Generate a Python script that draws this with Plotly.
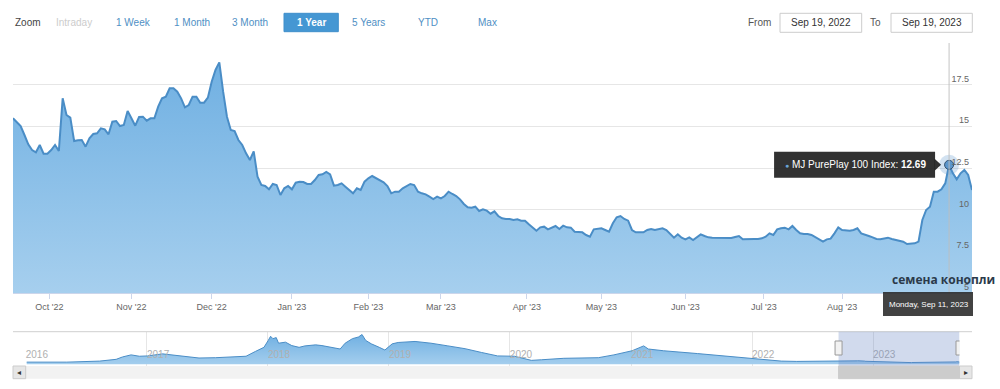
import pandas as pd
import plotly.graph_objects as go

# ---------------- data ----------------
HOLIDAYS = ["2022-11-24", "2022-12-26", "2023-01-02", "2023-01-16", "2023-02-20",
            "2023-04-07", "2023-05-29", "2023-06-19", "2023-07-04", "2023-09-04"]
START, END = "2022-09-19", "2023-09-19"
TRADE_DATES = [d.strftime("%Y-%m-%d") for d in
               pd.bdate_range(START, END, freq="C", holidays=HOLIDAYS)]

MJ_VALUES = [
    15.48, 15.22, 15.02, 14.48, 13.92, 13.58, 13.44, 13.88, 13.36, 13.36,
    13.58, 13.88, 13.52, 16.68, 15.68, 15.52, 14.12, 14.16, 14.18, 13.78,
    14.28, 14.54, 14.58, 14.88, 14.82, 14.52, 15.28, 15.32, 15.02, 15.08,
    15.92, 15.48, 15.04, 15.56, 15.58, 15.34, 15.48, 15.48, 16.18, 16.68,
    16.78, 17.28, 17.28, 17.08, 16.68, 16.14, 16.28, 16.78, 16.78, 16.42,
    16.42, 16.72, 17.68, 18.38, 18.84, 17.08, 15.58, 14.78, 14.72, 14.18,
    13.88, 13.38, 12.98, 13.50, 11.98, 11.48, 11.42, 11.22, 11.54, 11.48,
    10.88, 11.28, 11.42, 11.22, 11.62, 11.68, 11.66, 11.54, 11.54, 11.78,
    12.08, 12.12, 12.26, 12.12, 11.44, 11.48, 11.58, 11.38, 11.18, 10.98,
    11.28, 11.18, 11.68, 11.88, 12.02, 11.88, 11.78, 11.64, 11.42, 10.98,
    11.08, 11.08, 11.28, 11.42, 11.54, 11.48, 11.08, 10.98, 10.92, 10.78,
    10.64, 10.78, 10.68, 10.82, 11.08, 10.94, 10.82, 10.62, 10.34, 10.14,
    10.12, 10.18, 9.92, 10.02, 9.94, 9.76, 9.90, 9.62, 9.48, 9.44,
    9.44, 9.38, 9.42, 9.34, 9.34, 9.12, 8.92, 8.74, 8.94, 8.98,
    8.82, 8.94, 9.02, 8.84, 9.04, 8.94, 8.92, 8.68, 8.64, 8.64,
    8.48, 8.38, 8.82, 8.84, 8.88, 8.78, 8.68, 9.18, 9.54, 9.62,
    9.44, 9.34, 8.78, 8.64, 8.64, 8.64, 8.78, 8.84, 8.78, 8.84,
    8.88, 8.78, 8.54, 8.32, 8.52, 8.32, 8.22, 8.34, 8.18, 8.38,
    8.52, 8.42, 8.34, 8.32, 8.32, 8.34, 8.32, 8.34, 8.30, 8.36,
    8.42, 8.22, 8.24, 8.24, 8.24, 8.24, 8.28, 8.38, 8.58, 8.48,
    8.82, 8.88, 8.92, 8.82, 9.02, 8.78, 8.58, 8.54, 8.54, 8.48,
    8.34, 8.22, 8.08, 8.22, 8.26, 8.58, 8.94, 8.78, 8.74, 8.74,
    8.78, 8.88, 8.58, 8.48, 8.42, 8.34, 8.24, 8.22, 8.28, 8.32,
    8.24, 8.18, 8.14, 8.08, 7.94, 7.94, 7.98, 8.08, 9.38, 9.98,
    10.18, 11.08, 11.08, 11.22, 11.58, 12.69, 12.18, 11.82, 12.18, 12.38,
    12.08, 11.18,
]
N = min(len(TRADE_DATES), len(MJ_VALUES))
TRADE_DATES, MJ_VALUES = TRADE_DATES[:N], MJ_VALUES[:N]

# navigator history (before the selected year)
HIST_DATES = [
    "2016-01-04", "2016-05-04", "2016-08-11", "2016-09-30", "2016-10-19", "2016-11-14",
    "2016-12-09", "2017-01-03", "2017-02-17", "2017-03-17", "2017-04-20", "2017-06-07",
    "2017-07-27", "2017-09-15", "2017-10-27", "2017-11-24", "2017-12-20", "2018-01-02",
    "2018-01-09", "2018-01-16", "2018-01-26", "2018-02-02", "2018-02-23", "2018-03-14",
    "2018-04-05", "2018-04-23", "2018-05-25", "2018-06-13", "2018-07-12", "2018-08-07",
    "2018-08-22", "2018-09-13", "2018-10-01", "2018-10-12", "2018-10-23", "2018-10-30",
    "2018-11-09", "2018-12-03", "2018-12-20", "2019-01-11", "2019-01-29", "2019-03-21",
    "2019-05-08", "2019-06-28", "2019-08-19", "2019-10-08", "2019-11-25", "2020-01-15",
    "2020-03-06", "2020-04-06", "2020-06-12", "2020-09-24", "2020-11-10", "2021-01-04",
    "2021-02-08", "2021-02-22", "2021-04-09", "2021-07-20", "2021-10-26", "2021-12-28",
    "2022-02-07", "2022-03-30", "2022-05-16", "2022-08-22",
]
HIST_VALUES = [
    10.6, 10.6, 15.6, 24.1, 35.6, 45.6,
    39.1, 40.6, 50.6, 45.6, 42.1, 30.6,
    32.1, 35.6, 39.1, 62.1, 82.1, 115.6,
    135.6, 124.1, 129.1, 102.1, 107.1, 90.6,
    82.1, 89.1, 94.1, 90.6, 82.1, 74.1,
    102.1, 124.1, 132.1, 144.1, 115.6, 107.1,
    99.1, 82.1, 69.1, 99.1, 105.6, 110.6,
    102.1, 89.1, 75.6, 57.1, 40.6, 39.1,
    19.1, 22.1, 29.1, 32.1, 45.6, 65.6,
    89.1, 74.1, 65.6, 52.1, 39.1, 29.1,
    22.1, 15.6, 14.1, 14.1,
]
NAV_DATES = HIST_DATES + TRADE_DATES
NAV_VALUES = HIST_VALUES + MJ_VALUES

HOVER_DATE = "2023-09-11"
HOVER_VALUE = MJ_VALUES[TRADE_DATES.index(HOVER_DATE)]

MONTH_TICKS = ["2022-09-30 12:00", "2022-11-01", "2022-12-01", "2023-01-03", "2023-02-01",
               "2023-03-01", "2023-03-31 12:00", "2023-05-01", "2023-06-01",
               "2023-06-30 12:00", "2023-08-01"]
MONTH_LABELS = ["Oct '22", "Nov '22", "Dec '22", "Jan '23", "Feb '23", "Mar '23",
                "Apr '23", "May '23", "Jun '23", "Jul '23", "Aug '23"]
Y_TICKS = [5, 7.5, 10, 12.5, 15, 17.5, 20]
Y_LABELS = ["5", "7.5", "10", "12.5", "15", "17.5", ""]
YEAR_TICKS = ["2016-01-01", "2017-01-01", "2018-01-01", "2019-01-01", "2020-01-01",
              "2021-01-01", "2022-01-01", "2023-01-01"]
YEAR_LABELS = ["2016", "2017", "2018", "2019", "2020", "2021", "2022", "2023"]
BUTTONS = ["Intraday", "1 Week", "1 Month", "3 Month", "1 Year", "5 Years", "YTD", "Max"]

# ---------------- geometry helpers (layout only) ----------------
W, H = 1000, 389
def px(x): return x / W
def py(y): return 1 - y / H

FONT = "Liberation Sans, Arial, sans-serif"
LINE = "#4a8dc6"
FILL_TOP = "#70b0e2"
FILL_BOT = "#a6cfee"


def text(x, y, s, size=10, color="#444", xanchor="center", family=FONT, yanchor="middle"):
    return dict(xref="paper", yref="paper", x=px(x), y=py(y), xanchor=xanchor,
                yanchor=yanchor, showarrow=False, text=s,
                font=dict(family=family, size=size, color=color))


fig = go.Figure()

fig.add_trace(go.Scatter(
    x=TRADE_DATES, y=MJ_VALUES, mode="lines", xaxis="x", yaxis="y",
    line=dict(color=LINE, width=2), fill="tozeroy",
    fillgradient=dict(type="vertical", start=Y_TICKS[0], stop=max(MJ_VALUES),
                      colorscale=[[0, FILL_BOT], [1, FILL_TOP]]),
    hoverinfo="skip", showlegend=False))

# hover halo + marker
fig.add_trace(go.Scatter(
    x=[HOVER_DATE], y=[HOVER_VALUE], mode="markers", xaxis="x", yaxis="y",
    marker=dict(size=20, color="rgba(74,141,198,0.25)"), hoverinfo="skip", showlegend=False))
fig.add_trace(go.Scatter(
    x=[HOVER_DATE], y=[HOVER_VALUE], mode="markers", xaxis="x", yaxis="y",
    marker=dict(size=9, color="#5d97cc", line=dict(color="#2f4f6f", width=1)),
    hoverinfo="skip", showlegend=False))

nav_lo = min(NAV_VALUES) - 0.1 * (max(NAV_VALUES) - min(NAV_VALUES))
nav_hi = max(NAV_VALUES) + 0.1 * (max(NAV_VALUES) - min(NAV_VALUES))
fig.add_trace(go.Scatter(
    x=NAV_DATES, y=NAV_VALUES, mode="lines", xaxis="x2", yaxis="y2",
    line=dict(color=LINE, width=1), fill="tozeroy",
    fillgradient=dict(type="vertical", start=nav_lo, stop=max(NAV_VALUES),
                      colorscale=[[0, FILL_BOT], [1, FILL_TOP]]),
    hoverinfo="skip", showlegend=False))

shapes = []
annotations = []

# crosshair
shapes.append(dict(type="line", xref="x", yref="y domain", x0=HOVER_DATE, x1=HOVER_DATE,
                   y0=0, y1=1, line=dict(color="rgba(190,190,190,0.9)", width=1), layer="above"))
# tooltip box + pointer
shapes.append(dict(type="rect", xref="x", yref="y", xsizemode="pixel", ysizemode="pixel",
                   xanchor=HOVER_DATE, yanchor=HOVER_VALUE, x0=-175, x1=-14, y0=-13, y1=13,
                   fillcolor="rgba(28,28,28,0.9)", line=dict(width=0), layer="above"))
shapes.append(dict(type="path", xref="x", yref="y", xsizemode="pixel", ysizemode="pixel",
                   xanchor=HOVER_DATE, yanchor=HOVER_VALUE,
                   path="M -14.5,-6 L -8,0 L -14.5,6 Z",
                   fillcolor="rgba(28,28,28,0.9)", line=dict(width=0), layer="above"))
annotations.append(dict(
    xref="x", yref="y", x=HOVER_DATE, y=HOVER_VALUE, xanchor="right", yanchor="middle",
    xshift=-21, showarrow=False, font=dict(family=FONT, size=10, color="white"),
    text=('<span style="color:#6aa3d5;font-size:7px">●</span> MJ PurePlay 100 Index: '
          '<b>%.2f</b>' % HOVER_VALUE)))

# crosshair x label
shapes.append(dict(type="rect", xref="paper", yref="paper", x0=px(883), x1=px(973),
                   y0=py(316), y1=py(292), fillcolor="rgba(40,40,40,0.88)",
                   line=dict(width=0), layer="above"))
annotations.append(text(929, 304, "Monday, Sep 11, 2023", size=8, color="white"))

# navigator outline
shapes.append(dict(type="line", xref="paper", yref="paper", x0=px(13), x1=px(972),
                   y0=py(331.7), y1=py(331.7), line=dict(color="#cfcfcf", width=1)))
# navigator selection mask
shapes.append(dict(type="rect", xref="x2", yref="paper", x0=START, x1=END,
                   y0=py(366), y1=py(331.7), fillcolor="rgba(102,133,194,0.3)",
                   line=dict(width=0), layer="above"))
# scrollbar
shapes.append(dict(type="rect", xref="paper", yref="paper", x0=px(13), x1=px(972),
                   y0=py(378.7), y1=py(366), fillcolor="#f2f2f2", line=dict(width=0)))
shapes.append(dict(type="rect", xref="paper", yref="paper", x0=px(13), x1=px(25.7),
                   y0=py(378.7), y1=py(366), fillcolor="#e6e6e6",
                   line=dict(color="#cccccc", width=1)))
shapes.append(dict(type="rect", xref="paper", yref="paper", x0=px(959.5), x1=px(972),
                   y0=py(378.7), y1=py(366), fillcolor="#e6e6e6",
                   line=dict(color="#cccccc", width=1)))
shapes.append(dict(type="rect", xref="x2", yref="paper", x0=START, x1=END,
                   y0=py(378.7), y1=py(366), fillcolor="#cccccc",
                   line=dict(color="#cccccc", width=1), layer="above"))
annotations.append(text(19.3, 372.3, "◂", size=8, color="#333", family="DejaVu Sans"))
annotations.append(text(965.7, 372.3, "▸", size=8, color="#333", family="DejaVu Sans"))
# navigator handles
for d in (START, END):
    shapes.append(dict(type="rect", xref="x2", yref="paper", xsizemode="pixel", xanchor=d,
                       x0=-3.5, x1=3.5, y0=py(355), y1=py(341), fillcolor="#f2f2f2",
                       line=dict(color="#999999", width=1), layer="above"))

# range selector
annotations.append(text(13, 22, "Zoom", size=10, color="#444", xanchor="left"))
BTN_X = [74, 133, 191.5, 250, 311, 368.7, 427.5, 487.5]
for label, cx in zip(BUTTONS, BTN_X):
    color = "#4f8fc4"
    s = label
    if label == "Intraday":
        color = "#cccccc"
    if label == "1 Year":
        color = "white"
        s = "<b>%s</b>" % label
        shapes.append(dict(type="rect", xref="paper", yref="paper", x0=px(284), x1=px(338.3),
                           y0=py(31.7), y1=py(13.3), fillcolor="#4597d3",
                           line=dict(color="#3f8fcb", width=1)))
    annotations.append(text(cx, 22, s, size=10, color=color))

annotations.append(text(759, 22, "From", size=10, color="#555"))
annotations.append(text(875.5, 22, "To", size=10, color="#555"))
for x0, x1, txt in ((780, 861.7, "Sep 19, 2022"), (891, 972.3, "Sep 19, 2023")):
    shapes.append(dict(type="rect", xref="paper", yref="paper", x0=px(x0), x1=px(x1),
                       y0=py(32.3), y1=py(13.3), fillcolor="white",
                       line=dict(color="#cccccc", width=1)))
    annotations.append(text((x0 + x1) / 2, 22.5, txt, size=10, color="#333"))

# watermark text
annotations.append(text(997, 279, "<b>семена конопли</b>", size=12, color="#2b3a4a",
                        xanchor="right", family="Open Sans"))

fig.update_layout(
    width=W, height=H, margin=dict(l=0, r=0, t=0, b=0, pad=0),
    paper_bgcolor="white", plot_bgcolor="rgba(0,0,0,0)",
    hovermode=False, showlegend=False,
    font=dict(family=FONT, size=9, color="#666"),
    xaxis=dict(domain=[px(13), px(972)], anchor="y", type="date", range=[START, END],
               rangebreaks=[dict(bounds=["sat", "mon"]), dict(values=HOLIDAYS)],
               tickmode="array", tickvals=MONTH_TICKS, ticktext=MONTH_LABELS,
               ticks="outside", ticklen=5, tickcolor="#ccd6eb", tickwidth=1,
               showgrid=False, showline=True, linecolor="#ccd6eb", linewidth=1,
               zeroline=False, tickfont=dict(family=FONT, size=9, color="#666"),
               fixedrange=True),
    yaxis=dict(domain=[py(293), py(43)], anchor="x", range=[Y_TICKS[0], Y_TICKS[-1]],
               side="right", tickmode="array", tickvals=Y_TICKS, ticktext=Y_LABELS,
               ticklabelposition="inside", ticklabelshift=-6, ticks="",
               showgrid=True, gridcolor="#e6e6e6", gridwidth=1, zeroline=False,
               showline=False, tickfont=dict(family=FONT, size=9, color="#666"),
               fixedrange=True),
    xaxis2=dict(domain=[px(25.7), px(959.5)], anchor="y2", type="date",
                range=[YEAR_TICKS[0], END], tickmode="array", tickvals=YEAR_TICKS,
                ticktext=YEAR_LABELS, ticklabelposition="inside right", ticks="",
                showgrid=True, gridcolor="#e6e6e6", zeroline=False, showline=False,
                tickfont=dict(family=FONT, size=10, color="#b0b0b0"), fixedrange=True),
    yaxis2=dict(domain=[py(365.5), py(331.7)], anchor="x2", range=[nav_lo, nav_hi],
                visible=False, fixedrange=True),
    shapes=shapes, annotations=annotations,
)

fig.write_html("out.html")
